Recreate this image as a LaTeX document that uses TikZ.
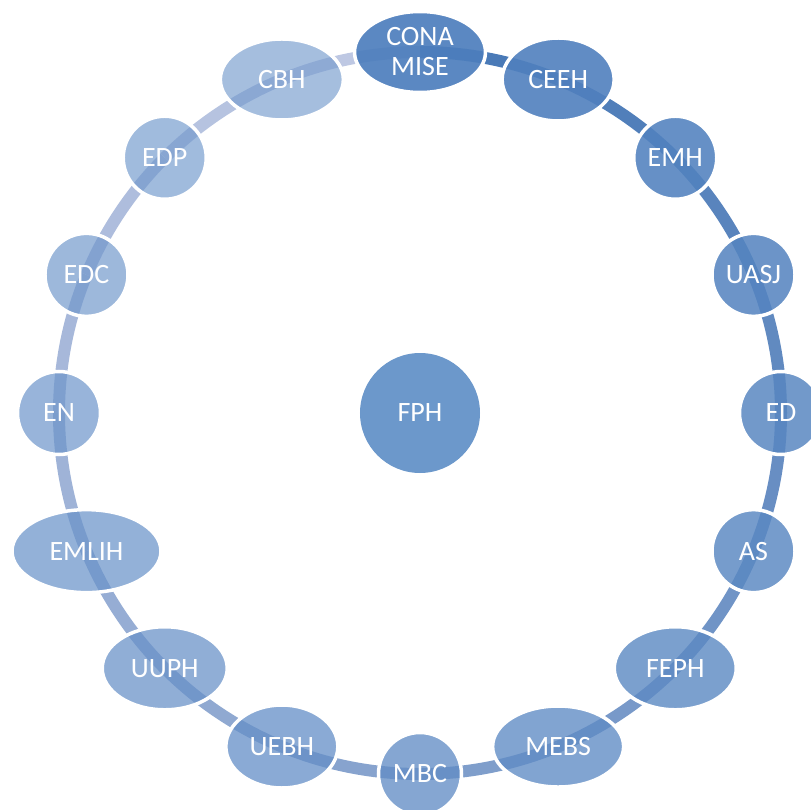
\documentclass[tikz,border=0pt]{standalone}
\usepackage{fontspec}
\setmainfont{Carlito}
\usepackage{tikz}
\usetikzlibrary{shapes.geometric}
\usetikzlibrary{positioning}

\definecolor{arcdark}{RGB}{74,122,183}
\definecolor{arclight}{RGB}{190,200,227}
\definecolor{nodedark}{RGB}{77,126,189}
\definecolor{nodelight}{RGB}{117,155,205}
\definecolor{hubblue}{RGB}{108,152,203}

\begin{document}
\begin{tikzpicture}
		[x=1pt,y=1pt,
		every node/.style={ellipse,draw=white,line width=3.5pt,text=white,text opacity=1,
			inner sep=0pt,align=center,minimum width=83,minimum height=83,
			font=\fontsize{28}{30}\selectfont},
		tone/.style={fill=nodelight!#1!nodedark,
			/utils/exec={\pgfmathsetmacro\op{0.92-0.0027*#1}},fill opacity=\op},
		ring/.style={line width=12pt}]
		\useasboundingbox (-420,-396) rectangle (391,413);
		
		% places on the ring
		\foreach \i in {0,...,15}
		\coordinate (p\i) at (90-22.5*\i:361);
		
		% ring pieces, dark to light
		\foreach \i in {0,...,15}{
			\pgfmathtruncatemacro\mix{100*\i/15}
			\colorlet{seg}{arclight!\mix!arcdark}
			\draw[ring,seg] (p\i) arc[start angle=90-22.5*\i,delta angle=-22.5,radius=361];
		}
		
		\node[fill=hubblue,draw=none,minimum width=120,minimum height=120] (fph) at (0,0) {FPH};
		
		\node[tone=0,minimum width=131,minimum height=81] (cona) at (p0) {CONA\\[0pt]MISE};
		\node[tone=7,minimum width=112] (ceeh) at (p1) {CEEH};
		\node[tone=13] (emh) at (p2) {EMH};
		\node[tone=20] (uasj) at (p3) {UASJ};
		\node[tone=27] (ed) at (p4) {ED};
		\node[tone=33] (as) at (p5) {AS};
		\node[tone=40,minimum width=122] (feph) at (p6) {FEPH};
		\node[tone=47,minimum width=131,minimum height=81] (mebs) at (p7) {MEBS};
		\node[tone=53] (mbc) at (p8) {MBC};
		\node[tone=60,minimum width=112] (uebh) at (p9) {UEBH};
		\node[tone=67,minimum width=125] (uuph) at (p10) {UUPH};
		\node[tone=73,minimum width=149] (emlih) at (p11) {EMLIH};
		\node[tone=80] (en) at (p12) {EN};
		\node[tone=87] (edc) at (p13) {EDC};
		\node[tone=93] (edp) at (p14) {EDP};
		\node[tone=100,minimum width=123,minimum height=81] (cbh) at (p15) {CBH};
		\end{tikzpicture}
\end{document}
